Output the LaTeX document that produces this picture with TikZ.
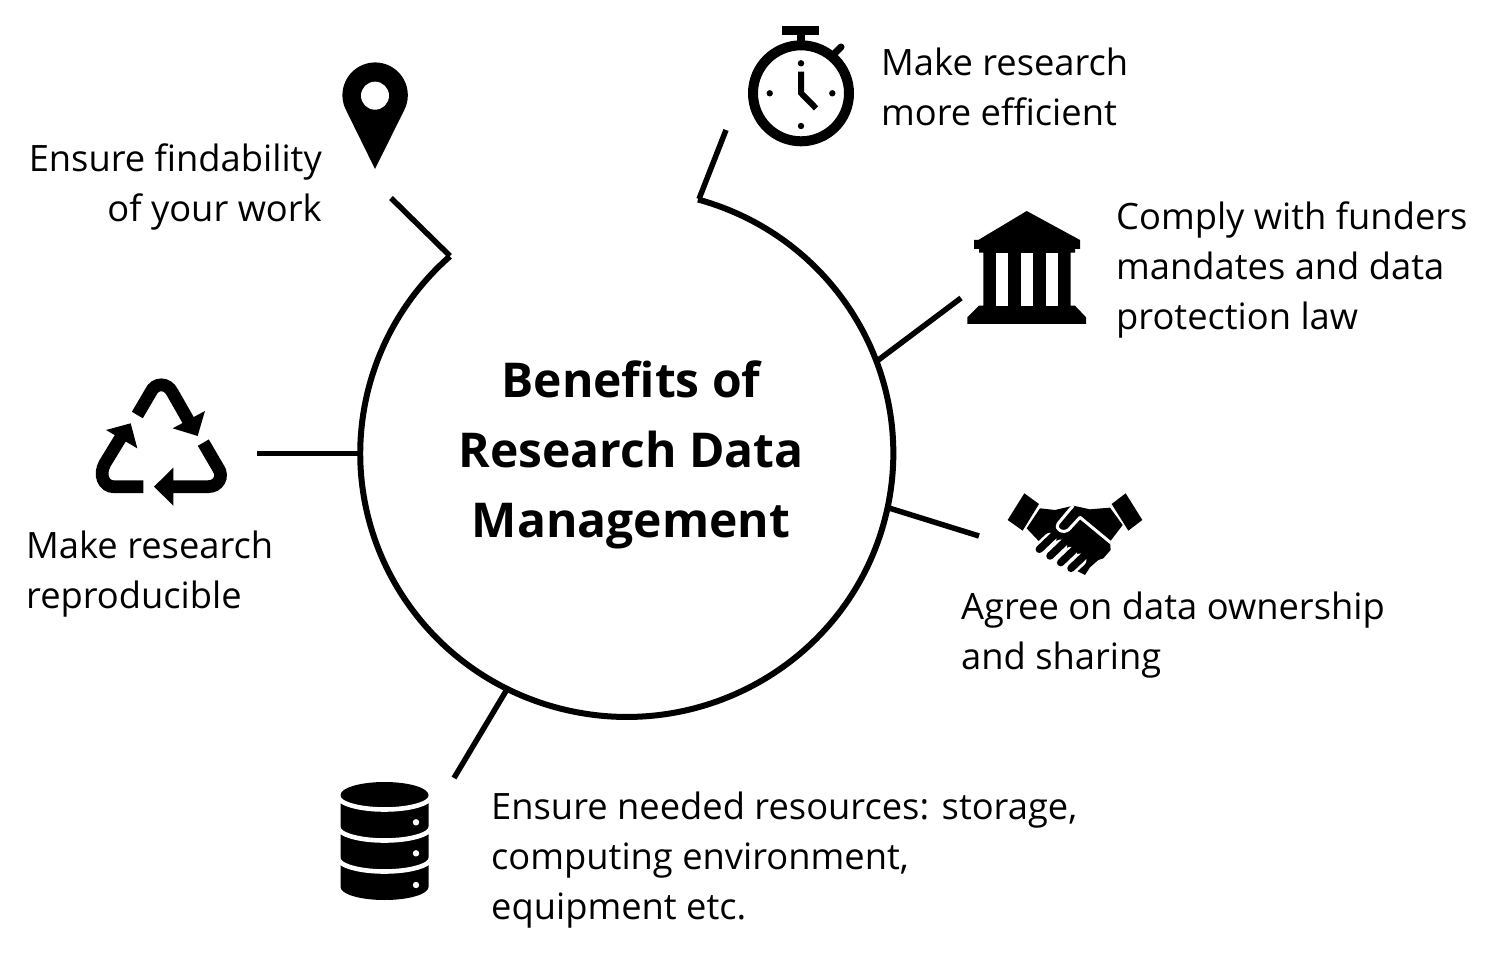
\documentclass[tikz,border=0pt]{standalone}
\usepackage{fontspec}
\setmainfont{Open Sans}
\tikzset{
	blurb/.style={inner sep=0pt, font=\fontsize{36.3}{50}\selectfont, align=left},
	hubtext/.style={inner sep=0pt, font=\fontsize{48}{70}\selectfont\bfseries, align=center},
	spoke/.style={line width=5.5pt},
	zoomed/.style={shift={#1}, x=0.3333pt, y=-0.3333pt},
	recycleband/.style={line width=12.7pt},
}
\begin{document}
\begin{tikzpicture}[x=1pt, y=-1pt]
	\useasboundingbox (0,0) rectangle (1502,957);
	\fill[white] (0,0) rectangle (1502,957);

	\node[hubtext] (hub) at (631,455) {Benefits of\\Research Data\\Management};
	\node[blurb, anchor=north west] (efficient) at (881,48) {Make research\\more efficient};
	\node[blurb, anchor=north east, align=right] (findable) at (322,144) {Ensure findability\\of your work};
	\node[blurb, anchor=north west] (funders) at (1116,202) {Comply with funders\\mandates and data\\protection law};
	\node[blurb, anchor=north west] (ownership) at (961,592) {Agree on data ownership\\and sharing};
	\node[blurb, anchor=north west] (resources) at (491,792) {Ensure needed resources: storage,\\computing environment,\\equipment etc.};
	\node[blurb, anchor=north west] (reproduce) at (26,531) {Make research\\reproducible};

	\draw[line width=6pt] (698,199.5) arc[start angle=74.5, end angle=-228.4, x radius=266.5pt, y radius=263.5pt];

	\coordinate (ringPin) at (450,256);
	\coordinate (ringClock) at (699,199);
	\coordinate (ringBank) at (877,361);
	\coordinate (ringHands) at (889,508);
	\coordinate (ringDisk) at (506,691);
	\coordinate (ringCycle) at (360,453.5);
	\coordinate (freePin) at (391,198);
	\coordinate (freeClock) at (726,130);
	\coordinate (freeBank) at (961,298);
	\coordinate (freeHands) at (979,536);
	\coordinate (freeDisk) at (454,778);
	\coordinate (freeCycle) at (257,453.5);
	\draw[spoke] (freePin)--(ringPin);
	\draw[spoke] (freeClock)--(ringClock);
	\draw[spoke] (freeBank)--(ringBank);
	\draw[spoke] (freeHands)--(ringHands);
	\draw[spoke] (freeDisk)--(ringDisk);
	\draw[spoke] (freeCycle)--(ringCycle);

	% pin
	\fill (375,169) -- (346,110) arc[start angle=207, end angle=-27, radius=32.7pt] -- cycle;
	\fill[white] (375,95.7) circle[radius=14pt];

	% stopwatch
	\draw[line width=10pt] (801,93.3) circle[radius=48pt];
	\fill (782,26) rectangle (819,35);
	\fill (797,35) rectangle (805,46);
	\draw[line width=7pt, line cap=round] (835,53)--(841,47);
	\foreach \dotx/\doty in {801/63.3, 769.7/93.3, 832.3/93.3, 801/126}
		\fill (\dotx,\doty) circle[radius=3.2pt];
	\draw[line width=6pt] (801,71.7)--(801,93)--(816,108.3);

	% bank
	\fill (1026.7,211) -- (1080,240) -- (1080,249) -- (1075,249) -- (1075,252.7) -- (1070.7,252.7) -- (1070.7,305.7)
		-- (1075,305.7) -- (1086,317.3) -- (1086,324) -- (967.3,324) -- (967.3,317.3) -- (979,305.7) -- (983.3,305.7)
		-- (983.3,252.7) -- (979,252.7) -- (979,249) -- (974,249) -- (974,240) -- (978.3,240) -- cycle;
	\foreach \colx in {995.7, 1020.7, 1045.7}
		\fill[white] (\colx,252.7) rectangle (\colx+12.6,305.7);

	% handshake
	\begin{scope}[zoomed={(990,480)}]
		\fill (103,40) -- (147,72) -- (98,152) -- (53,120) -- cycle;
		\fill (407,40) -- (365,72) -- (415,152) -- (457,120) -- cycle;
		\fill (150,85) -- (195,90) -- (250,77) -- (300,88) -- (360,83) -- (398,135) -- (360,185) -- (362,210) -- (340,235)
			-- (325,240) -- (300,262) -- (285,285) -- (265,275) -- (240,260) -- (180,215) -- (145,182) -- (110,145) -- cycle;
		\draw[white, line width=3pt, line join=round] (362,188) -- (270,112) -- (235,150) .. controls (222,162) and (192,150) .. (205,130) -- (240,88) -- (250,77);
		\foreach \fax/\fay/\fbx/\fby in {148/208/180/178, 180/228/212/198, 212/248/242/220, 243/265/270/240} {
			\draw[white, line width=13pt, line cap=round] (\fax,\fay)--(\fbx,\fby);
			\draw[line width=7.5pt, line cap=round] (\fax,\fay)--(\fbx+14,\fby-14);
		}
	\end{scope}

	% recycling arrows
	\begin{scope}[zoomed={(80,365)}]
		\draw[recycleband] (172,150) -- (212,82) .. controls (225,52) and (262,52) .. (277,82) -- (330,175);
		\fill (375,138) -- (278,190) -- (353,213) -- cycle;
		\draw[recycleband] (190,365) -- (100,365) .. controls (72,365) and (55,330) .. (75,295) -- (130,205);
		\fill (152,175) -- (78,195) -- (172,250) -- cycle;
		\draw[recycleband] (370,233) -- (415,310) .. controls (432,335) and (415,365) .. (385,365) -- (270,365);
		\fill (222,365) -- (280,308) -- (280,422) -- cycle;
	\end{scope}

	% database
	\fill (340.5,795) arc[start angle=180, end angle=0, x radius=44pt, y radius=13pt]
		-- (428.5,887) arc[start angle=0, end angle=-180, x radius=44pt, y radius=13pt] -- cycle;
	\foreach \bandy in {796, 827, 858}
		\draw[white, line width=4.6pt] (338,\bandy) arc[start angle=180, end angle=360, x radius=46.5pt, y radius=13.5pt];
	\foreach \bandy in {822.3, 853.3, 885}
		\fill[white] (416,\bandy) circle[radius=3.2pt];
\end{tikzpicture}
\end{document}
